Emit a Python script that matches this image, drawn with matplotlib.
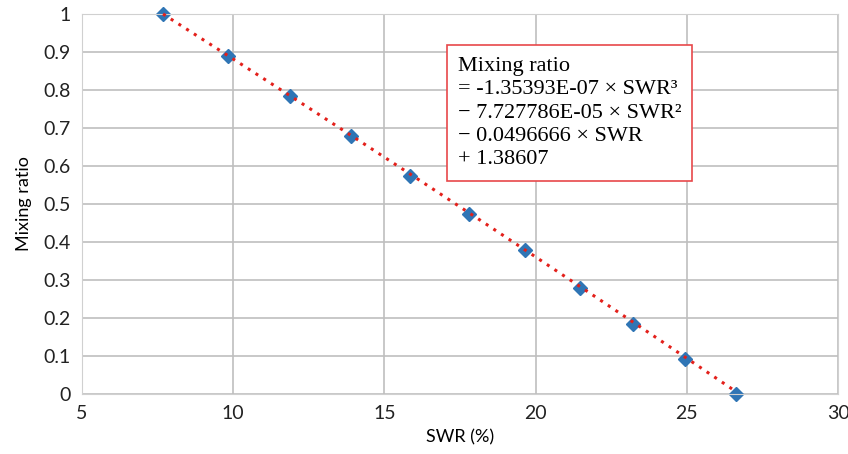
import numpy as np
import matplotlib
matplotlib.use("Agg")
import matplotlib.pyplot as plt

swr = [7.68, 9.83, 11.88, 13.90, 15.85, 17.80, 19.65, 21.47, 23.22, 24.94, 26.63]
mixing = [1.0, 0.889, 0.784, 0.678, 0.575, 0.475, 0.378, 0.280, 0.183, 0.092, 0.0]
coef = [-1.35393e-07, -7.727786e-05, -0.0496666, 1.38607]
xticks = [5, 10, 15, 20, 25, 30]
yticks = [0, 0.1, 0.2, 0.3, 0.4, 0.5, 0.6, 0.7, 0.8, 0.9, 1]
ytick_labels = ["0", "0.1", "0.2", "0.3", "0.4", "0.5", "0.6", "0.7", "0.8", "0.9", "1"]

plt.rcParams['font.family'] = ['Lato', 'DejaVu Sans']

fig = plt.figure(figsize=(8.48, 4.54), dpi=100)
ax = fig.add_axes([82/848, 1-394/454, (838-82)/848, (394-14)/454])

xt = np.linspace(min(swr), max(swr), 200)
ax.plot(xt, np.polyval(coef, xt), color='#e3201b', linestyle=(0, (1, 2)), linewidth=2.2, zorder=3, clip_on=False)
ax.plot(swr, mixing, linestyle='none', marker='D', markersize=7, color='#2f75b5', zorder=2, clip_on=False)

ax.set_xlim(5, 30)
ax.set_ylim(0, 1)
ax.set_xticks(xticks)
ax.set_yticks(yticks)
ax.set_yticklabels(ytick_labels)
ax.grid(True, color='#bfbfbf', linewidth=1.2)
ax.set_axisbelow(True)
for s in ax.spines.values():
    s.set_color('#d0d0d0')
ax.tick_params(length=0, labelsize=14, colors='#222222', pad=8)
ax.set_xlabel('SWR (%)', fontsize=13, labelpad=5)
ax.set_ylabel('Mixing ratio', fontsize=13, labelpad=8)

txt = ("Mixing ratio\n"
       "= -1.35393E-07 × SWR³\n"
       "− 7.727786E-05 × SWR²\n"
       "− 0.0496666 × SWR\n"
       "+ 1.38607")
ax.text(0.497, 0.888, txt, transform=ax.transAxes, fontsize=16, family=['Liberation Serif', 'DejaVu Serif'],
        va='top', ha='left', linespacing=1.32,
        bbox=dict(boxstyle='square,pad=0.5', facecolor='white', edgecolor='#e8484a', linewidth=1.2),
        zorder=5)

fig.savefig('out.png', dpi=100)
